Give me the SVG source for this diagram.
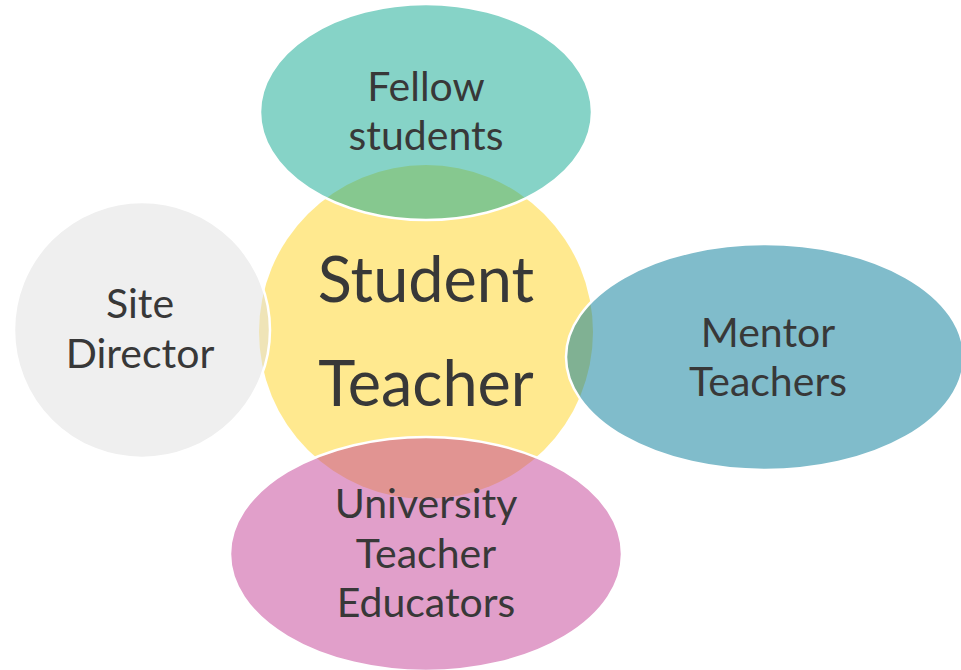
<svg xmlns="http://www.w3.org/2000/svg" width="961" height="670" viewBox="0 0 961 670">
  <style>
    .label { font-family: Lato, "Open Sans", sans-serif; fill: #383838; text-anchor: middle; }
    .sat { font-size: 41px; }
    .hub { font-size: 63px; }
    .petal { fill-opacity: 0.5; stroke: #ffffff; stroke-width: 2.5; }
  </style>
  <rect width="961" height="670" fill="#ffffff"/>

  <!-- central circle -->
  <g id="student-teacher">
    <circle cx="426" cy="332" r="167" fill="#ffe98f"/>
  </g>

  <!-- surrounding translucent petals -->
  <g id="fellow-students">
    <ellipse class="petal" cx="426" cy="112" rx="166" ry="108" fill="#0da78f"/>
    <text class="label sat" x="426" y="101">Fellow</text>
    <text class="label sat" x="426" y="150">students</text>
  </g>

  <g id="site-director">
    <circle class="petal" cx="142" cy="330" r="128" fill="#dfdfdf"/>
    <text class="label sat" x="140" y="318">Site</text>
    <text class="label sat" x="140" y="368">Director</text>
  </g>

  <g id="mentor-teachers">
    <ellipse class="petal" cx="765" cy="357" rx="199" ry="113" fill="#017997"/>
    <text class="label sat" x="768" y="347">Mentor</text>
    <text class="label sat" x="768" y="396">Teachers</text>
  </g>

  <g id="university-teacher-educators">
    <ellipse class="petal" cx="426" cy="554" rx="196" ry="117" fill="#c33f95"/>
    <text class="label sat" x="426" y="518">University</text>
    <text class="label sat" x="426" y="568">Teacher</text>
    <text class="label sat" x="426" y="617">Educators</text>
  </g>

  <!-- hub label drawn last so it stays on top -->
  <g id="hub-label">
    <text class="label hub" x="426" y="302">Student</text>
    <text class="label hub" x="426" y="406">Teacher</text>
  </g>

  <g id="connectors"/>
</svg>
